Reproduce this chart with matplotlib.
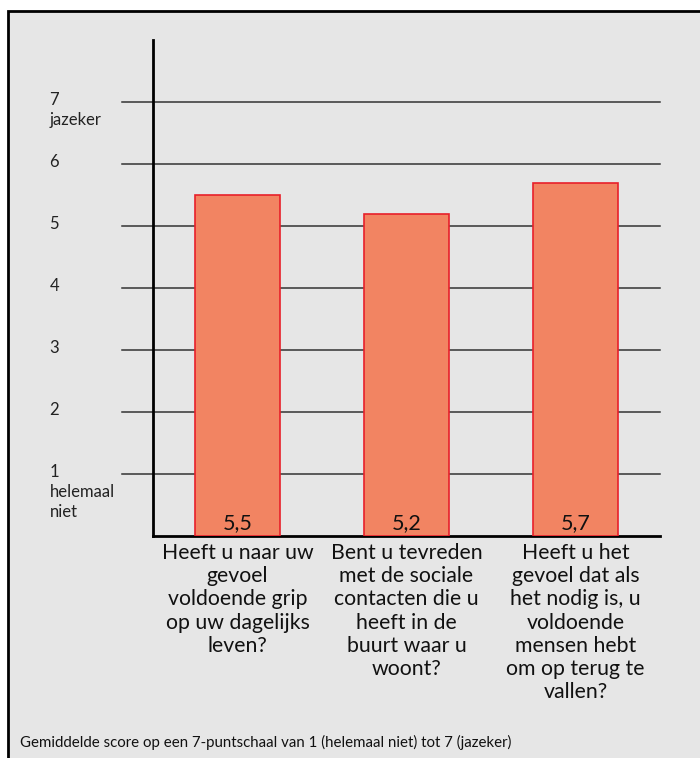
import matplotlib
matplotlib.use("Agg")
import matplotlib.pyplot as plt
from matplotlib.patches import Rectangle

plt.rcParams['font.family'] = ['Lato', 'DejaVu Sans']

# data
vragen = ["Heeft u naar uw\ngevoel\nvoldoende grip\nop uw dagelijks\nleven?",
          "Bent u tevreden\nmet de sociale\ncontacten die u\nheeft in de\nbuurt waar u\nwoont?",
          "Heeft u het\ngevoel dat als\nhet nodig is, u\nvoldoende\nmensen hebt\nom op terug te\nvallen?"]
scores = [5.5, 5.2, 5.7]
score_labels = ["5,5", "5,2", "5,7"]
y_ticks = [1, 2, 3, 4, 5, 6, 7]
y_labels = ["1\nhelemaal\nniet", "2", "3", "4", "5", "6", "7\njazeker"]
voetnoot = "Gemiddelde score op een 7-puntschaal van 1 (helemaal niet) tot 7 (jazeker)"

fig = plt.figure(figsize=(7, 7.58), dpi=100)
fig.patch.set_facecolor('white')

# grey panel with border
paneel = Rectangle((8/700, -0.01), 1.0, 0.9855 + 0.01, transform=fig.transFigure,
                   facecolor='#e6e6e6', edgecolor='black', linewidth=2, zorder=-1)
fig.add_artist(paneel)

ax = fig.add_axes([153/700, 222/758, 507/700, 496/758])
ax.set_facecolor('none')
ax.set_zorder(1)

x = range(len(scores))
ax.bar(x, scores, width=0.5, color='#f28462', edgecolor='#e8202a', linewidth=1.2, zorder=3)

ax.set_xlim(-0.5, 2.5)
ax.set_ylim(0, 8)

# gridlines, extending left of the axis
for t in y_ticks:
    ax.plot([-0.685, 2.5], [t, t], color='#333333', linewidth=1.1, clip_on=False, zorder=1)

for t, lab in zip(y_ticks, y_labels):
    ax.annotate(lab, xy=(0, t), xycoords=('axes fraction', 'data'), xytext=(-74.5, 7),
                textcoords='offset points', ha='left', va='top', fontsize=12,
                linespacing=1.28, color='#222222')

for i, (s, lab) in enumerate(zip(scores, score_labels)):
    ax.text(i, 0.05, lab, ha='center', va='bottom', fontsize=15.5, color='#111111', zorder=4)

for i, q in enumerate(vragen):
    ax.annotate(q, xy=(i, 0), xycoords=('data', 'axes fraction'), xytext=(0, -5),
                textcoords='offset points', ha='center', va='top', fontsize=15.3,
                linespacing=1.2, color='#111111')

for sp in ['top', 'right']:
    ax.spines[sp].set_visible(False)
ax.spines['left'].set_linewidth(2)
ax.spines['bottom'].set_linewidth(2)
ax.set_xticks([])
ax.set_yticks([])

fig.text(20/700, 1 - 742/758, voetnoot, ha='left', va='center', fontsize=10.8, color='#111111')

fig.savefig('out.png', dpi=100)
